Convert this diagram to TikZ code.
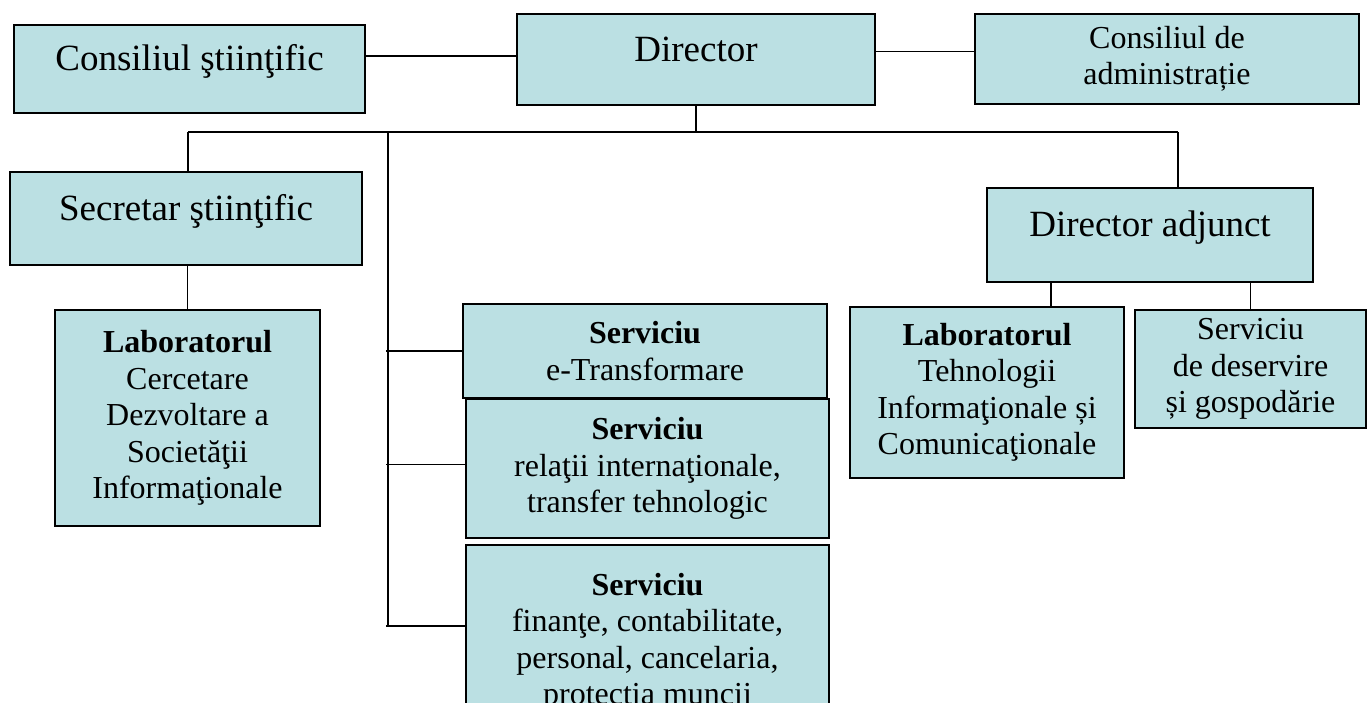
\documentclass[tikz,border=0pt]{standalone}
\usepackage{fontspec}
\setmainfont{Liberation Serif}
\usepackage{xcolor}
\usetikzlibrary{calc,positioning}
\definecolor{bleu-boite}{HTML}{BBE0E3}
\tikzstyle{boite-std}=[draw,fill=bleu-boite,line width=1.5pt,inner sep=0pt,align=center,font=\fontsize{32}{36.5}\selectfont]
\tikzstyle{boite-grande}=[boite-std,font=\fontsize{37}{44}\selectfont,text height=25pt,text depth=22pt]
\tikzstyle{trait}=[line width=1.5pt]

\begin{document}
\begin{tikzpicture}[x=1pt,y=-1pt]
\useasboundingbox (0,0) rectangle (1369,702);

\node[boite-grande,minimum width=351pt,minimum height=88pt] (boite-cs) at (189.5,69) {Consiliul ştiinţific};
\node[boite-grande,minimum width=358pt,minimum height=91pt] (boite-dir) at (696,59.5) {Director};
\node[boite-std,minimum width=384pt,minimum height=90pt] (boite-ca) at (1167,59) {Consiliul de\\administrație};
\node[boite-grande,minimum width=352pt,minimum height=93pt] (boite-sec) at (186,218.5) {Secretar ştiinţific};
\node[boite-grande,minimum width=326pt,minimum height=94pt] (boite-adj) at (1150,235) {Director adjunct};

\node[boite-std,minimum width=265pt,minimum height=216pt] (boite-lab1) at (187.5,418) {\textbf{Laboratorul}\\Cercetare\\Dezvoltare a\\Societăţii\\Informaţionale};
\node[boite-std,minimum width=364pt,minimum height=94pt] (boite-et) at (645,351) {\textbf{Serviciu}\\e-Transformare};
\node[boite-std,minimum width=363pt,minimum height=139pt] (boite-ri) at (647.5,468.5) {\textbf{Serviciu}\\relaţii internaţionale,\\transfer tehnologic};
\node[boite-std,minimum width=363pt,minimum height=195pt] (boite-fin) at (647.5,642.5) {\textbf{Serviciu}\\finanţe, contabilitate,\\personal, cancelaria,\\protecția muncii};
\node[boite-std,minimum width=274pt,minimum height=171pt] (boite-lab2) at (987,392.5) {\textbf{Laboratorul}\\Tehnologii\\Informaţionale și\\Comunicaţionale};
\node[boite-std,minimum width=231pt,minimum height=118pt] (boite-des) at (1250.5,369) {Serviciu\\de deservire\\și gospodărie};

\coordinate (bus-g) at (188,132);
\coordinate (bus-m) at (388,132);
\coordinate (bus-d) at (1178,132);
\coordinate (axe-bas) at (388,626);

\draw[trait] ([yshift=13pt]boite-cs.east) -- ([yshift=13pt]boite-cs.east -| boite-dir.west);
\draw[trait] ([yshift=8pt]boite-dir.east) -- ([yshift=8pt]boite-dir.east -| boite-ca.west);
\draw[trait] (boite-dir.south) -- (boite-dir.south |- bus-g);
\draw[trait] (bus-g) -- (bus-d);
\draw[trait] (bus-g) -- (bus-g |- boite-sec.north);
\draw[trait] (bus-d) -- (bus-d |- boite-adj.north);
\draw[trait] (bus-m) -- (axe-bas);
\draw[trait] ([xshift=-2pt]bus-m |- boite-et.west) -- (boite-et.west);
\draw[trait] ([xshift=-2pt,yshift=4pt]bus-m |- boite-ri.west) -- ([yshift=4pt]boite-ri.west);
\draw[trait] ([xshift=-2pt]axe-bas) -- (axe-bas -| boite-fin.west);
\draw[trait] (boite-lab1.north |- boite-sec.south) -- (boite-lab1.north);
\draw[trait] ([xshift=64pt]boite-lab2.north |- boite-adj.south) -- ([xshift=64pt]boite-lab2.north);
\draw[trait] (boite-des.north |- boite-adj.south) -- (boite-des.north);
\end{tikzpicture}
\end{document}
